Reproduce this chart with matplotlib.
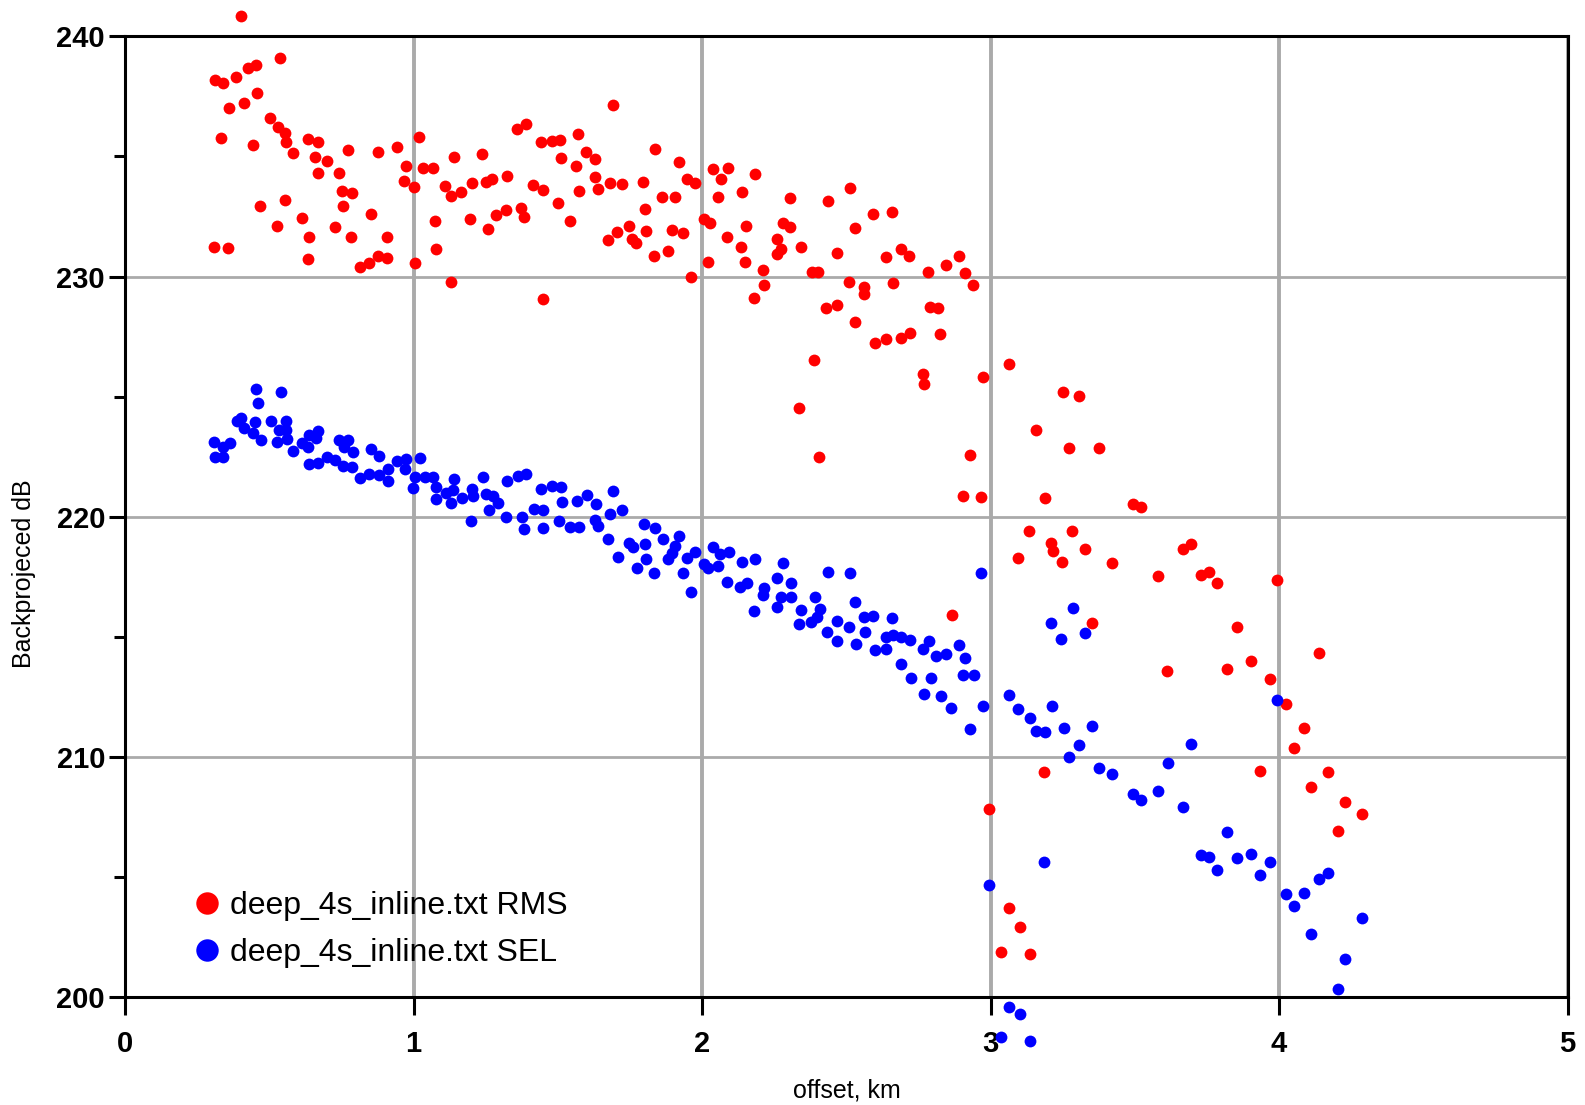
import matplotlib
matplotlib.use("Agg")
import matplotlib.pyplot as plt
from matplotlib.ticker import MultipleLocator

# offsets (km) and levels (dB)
rms_km = [0.400, 0.311, 0.338, 0.383, 0.424, 0.452, 0.536, 0.361, 0.413, 0.458, 0.332, 0.442, 0.502, 0.530,
          0.554, 0.557, 0.580, 0.634, 0.667, 0.658, 0.698, 0.667, 0.771, 0.741, 0.752, 0.787, 0.756, 0.467,
          0.555, 0.525, 0.612, 0.638, 0.634, 0.309, 0.355, 0.727, 0.784, 0.852, 0.906, 0.877, 0.909, 0.845,
          0.814, 0.878, 0.941, 1.019, 0.972, 1.033, 1.066, 0.967, 1.001, 1.139, 1.237, 1.108, 1.131, 1.164,
          1.203, 1.250, 1.270, 1.322, 1.073, 1.077, 1.195, 1.287, 1.320, 1.258, 1.005, 1.129,
          1.372, 1.382, 1.359, 1.389, 1.440, 1.478, 1.507, 1.568, 1.692, 1.510, 1.561, 1.599, 1.630, 1.628,
          1.414, 1.447, 1.502, 1.574, 1.640, 1.680, 1.721, 1.796, 1.543, 1.447, 1.836, 1.919, 1.949, 1.976,
          1.861, 1.905, 1.801, 1.746, 1.705, 1.674, 1.757, 1.770, 1.807, 1.833, 1.881, 1.897, 1.932, 1.961,
          2.007, 2.027, 2.019, 2.036, 2.090, 2.064, 2.183, 2.056, 2.137, 2.306, 2.085, 2.133, 2.151, 2.148,
          2.212, 2.214, 2.179, 2.279, 2.306, 2.261, 2.275, 2.258,
          2.342, 2.437, 2.511, 2.469, 2.529, 2.593, 2.659, 2.380, 2.402, 2.510, 2.562, 2.562, 2.431, 2.466,
          2.529, 2.637, 2.689, 2.718, 2.662, 2.783, 2.844, 2.891, 2.911, 2.940, 2.789, 2.818, 2.826, 2.720,
          2.689, 2.639, 2.599, 2.388, 2.336, 2.406, 2.766, 2.769, 2.972, 2.928, 2.905, 2.965,
          3.063, 3.251, 3.305, 3.156, 3.273, 3.374, 3.187, 3.495, 3.521, 3.134, 3.283, 3.209, 3.217, 3.327,
          3.094, 3.246, 3.422, 3.580, 2.867, 3.351, 3.612, 3.184, 2.995, 3.063, 3.101, 3.035, 3.137,
          3.667, 3.696, 3.731, 3.757, 3.786, 3.992, 3.854, 4.139, 3.818, 3.904, 3.969, 4.023, 4.086, 4.051,
          3.933, 4.168, 4.109, 4.229, 4.287, 4.203]
rms_db = [240.86, 238.18, 238.07, 238.32, 238.67, 238.81, 239.09, 237.00, 237.21, 237.63, 235.76, 235.46, 236.61, 236.24,
          235.96, 235.61, 235.13, 235.71, 235.59, 234.99, 234.80, 234.30, 235.27, 234.30, 233.56, 233.47, 232.95, 232.95,
          233.19, 232.12, 232.42, 231.66, 230.73, 231.24, 231.20, 232.05, 231.66, 232.59, 231.66, 230.85, 230.76, 230.55,
          230.41, 235.17, 235.38, 235.82, 234.60, 234.53, 234.51, 233.99, 233.74, 234.99, 235.10, 233.78, 233.35, 233.53,
          233.91, 233.95, 234.05, 234.20, 232.31, 231.13, 232.39, 232.56, 232.77, 231.98, 230.55, 229.78,
          232.84, 232.49, 236.13, 236.34, 235.59, 235.66, 235.69, 235.94, 237.13, 234.95, 234.60, 235.20, 234.91, 234.13,
          233.80, 233.59, 233.07, 233.57, 233.66, 233.91, 233.85, 233.95, 232.32, 229.05, 235.30, 234.78, 234.06, 233.91,
          233.32, 233.32, 232.81, 232.10, 231.85, 231.52, 231.55, 231.38, 231.90, 230.87, 231.07, 231.94, 231.82, 229.97,
          232.38, 232.22, 230.62, 234.49, 234.52, 234.05, 234.27, 233.32, 233.52, 233.26, 231.66, 231.24, 232.12, 230.62,
          230.27, 229.65, 229.09, 232.22, 232.07, 231.56, 231.13, 230.94,
          231.24, 233.14, 233.70, 230.99, 232.01, 232.60, 232.70, 230.19, 230.19, 229.76, 229.58, 229.26, 228.70, 228.80,
          228.10, 230.82, 231.16, 230.85, 229.71, 230.19, 230.48, 230.85, 230.16, 229.63, 228.72, 228.68, 227.59, 227.66,
          227.45, 227.38, 227.22, 226.52, 224.54, 222.50, 225.94, 225.51, 225.80, 222.57, 220.87, 220.83,
          226.36, 225.19, 225.03, 223.59, 222.84, 222.84, 220.78, 220.53, 220.40, 219.40, 219.40, 218.90, 218.55, 218.67,
          218.26, 218.11, 218.07, 217.53, 215.90, 215.57, 213.57, 209.35, 207.81, 203.68, 202.91, 201.87, 201.79,
          218.65, 218.85, 217.58, 217.68, 217.24, 217.37, 215.38, 214.32, 213.65, 213.98, 213.24, 212.18, 211.21, 210.35,
          209.40, 209.38, 208.74, 208.10, 207.62, 206.91]

sel_km = [0.453, 0.539, 0.459, 0.386, 0.403, 0.411, 0.450, 0.442, 0.469, 0.505, 0.557, 0.534, 0.559, 0.527,
          0.562, 0.307, 0.363, 0.340, 0.311, 0.340, 0.582, 0.614, 0.637, 0.669, 0.661, 0.634, 0.741, 0.771,
          0.758, 0.788, 0.638, 0.669, 0.698, 0.727, 0.756, 0.785, 0.852, 0.880, 0.813, 0.846, 0.879, 0.912,
          0.912, 0.941, 0.973, 0.970, 1.021, 1.004, 0.996, 1.039, 1.068, 1.077, 1.079, 1.112, 1.131, 1.140,
          1.137, 1.166, 1.201, 1.206, 1.239, 1.250, 1.276, 1.293, 1.262, 1.198, 1.322, 1.320,
          1.362, 1.391, 1.374, 1.383, 1.418, 1.449, 1.440, 1.478, 1.510, 1.513, 1.449, 1.503, 1.541, 1.574,
          1.565, 1.601, 1.632, 1.628, 1.640, 1.692, 1.680, 1.721, 1.674, 1.707, 1.747, 1.759, 1.798, 1.836,
          1.801, 1.863, 1.807, 1.773, 1.833, 1.920, 1.905, 1.897, 1.882, 1.948, 1.975, 1.932, 1.963, 2.006,
          2.021, 2.036, 2.061, 2.094, 2.056, 2.137, 2.183, 2.087, 2.131, 2.154, 2.214, 2.211, 2.279, 2.261,
          2.307, 2.275, 2.307, 2.179, 2.260,
          2.437, 2.512, 2.391, 2.344, 2.408, 2.397, 2.336, 2.379, 2.530, 2.469, 2.508, 2.433, 2.468, 2.533,
          2.564, 2.562, 2.593, 2.659, 2.599, 2.639, 2.637, 2.662, 2.691, 2.722, 2.691, 2.764, 2.786, 2.812,
          2.847, 2.891, 2.911, 2.723, 2.792, 2.903, 2.942, 2.768, 2.827, 2.862,
          2.965, 3.284, 3.209, 3.244, 3.327, 2.972, 2.928, 3.063, 3.095, 3.136, 3.156, 3.188, 3.214, 3.254,
          3.352, 3.306, 3.273, 3.374, 3.422, 3.495, 3.521, 3.580, 3.614, 3.184, 2.995, 3.063, 3.101, 3.035,
          3.137,
          3.992, 3.696, 3.667, 3.818, 3.728, 3.757, 3.786, 3.854, 3.904, 3.969, 3.933, 4.139, 4.168, 4.023,
          4.086, 4.051, 4.287, 4.109, 4.229, 4.203]
sel_db = [225.31, 225.18, 224.74, 223.99, 224.09, 223.68, 223.95, 223.47, 223.19, 223.99, 223.99, 223.61, 223.61, 223.12,
          223.22, 223.12, 223.08, 222.91, 222.50, 222.50, 222.73, 223.05, 223.40, 223.58, 223.26, 222.89, 223.19, 223.19,
          222.89, 222.68, 222.18, 222.25, 222.47, 222.36, 222.12, 222.08, 222.82, 222.52, 221.59, 221.76, 221.73, 221.98,
          221.48, 222.33, 222.40, 221.98, 222.43, 221.66, 221.18, 221.64, 221.64, 221.22, 220.72, 221.00, 220.58, 221.57,
          221.11, 220.76, 221.15, 220.86, 221.66, 220.94, 220.86, 220.58, 220.27, 219.82, 221.50, 220.00,
          221.69, 221.77, 219.97, 219.47, 220.30, 220.27, 221.15, 221.29, 221.25, 220.60, 219.54, 219.82, 219.55, 219.55,
          220.66, 220.90, 220.52, 219.86, 219.61, 221.08, 220.11, 220.27, 219.05, 218.33, 218.91, 218.72, 219.69, 219.51,
          218.86, 219.07, 218.22, 217.87, 217.64, 219.20, 218.78, 218.47, 218.22, 218.26, 218.54, 217.64, 216.87, 218.03,
          217.85, 218.72, 218.44, 218.51, 217.94, 218.12, 218.23, 217.26, 217.08, 217.25, 217.04, 216.73, 218.08, 217.45,
          217.25, 216.66, 216.66, 216.08, 216.25,
          217.68, 217.64, 216.66, 216.11, 216.14, 215.83, 215.53, 215.62, 216.44, 215.66, 215.39, 215.18, 214.82, 214.69,
          215.18, 215.83, 215.86, 215.79, 214.45, 214.49, 214.97, 215.07, 215.00, 214.86, 213.85, 214.47, 214.82, 214.19,
          214.26, 214.64, 214.10, 213.29, 213.29, 213.40, 213.40, 212.61, 212.53, 212.01,
          217.63, 216.19, 215.56, 214.90, 215.15, 212.13, 211.15, 212.56, 211.98, 211.63, 211.07, 211.01, 212.13, 211.21,
          211.27, 210.50, 209.98, 209.52, 209.27, 208.43, 208.21, 208.56, 209.75, 205.60, 204.64, 199.58, 199.30, 198.33,
          198.14,
          212.36, 210.54, 207.91, 206.88, 205.91, 205.80, 205.29, 205.77, 205.94, 205.62, 205.08, 204.91, 205.15, 204.26,
          204.32, 203.76, 203.26, 202.60, 201.56, 200.34]

series_labels = ["deep_4s_inline.txt RMS", "deep_4s_inline.txt SEL"]
x_ticks = [0, 1, 2, 3, 4, 5]
y_ticks = [200, 210, 220, 230, 240]

plt.rcParams['font.family'] = ['Liberation Sans', 'DejaVu Sans']

fig = plt.figure(figsize=(15.85, 11.05), dpi=100)
ax = fig.add_axes([0.079, 0.098, 0.910, 0.869])

ax.plot(rms_km, rms_db, 'o', color='#ff0000', markersize=8.5, markeredgewidth=0,
        clip_on=False, zorder=3, label=series_labels[0])
ax.plot(sel_km, sel_db, 'o', color='#0000ff', markersize=8.5, markeredgewidth=0,
        clip_on=False, zorder=3, label=series_labels[1])

ax.set_xlim(0, 5)
ax.set_ylim(200, 240)
ax.set_xticks(x_ticks)
ax.set_yticks(y_ticks)
ax.yaxis.set_minor_locator(MultipleLocator(5))

ax.xaxis.grid(True, color='#aaaaaa', linewidth=2.8, zorder=0)
ax.yaxis.grid(True, color='#aaaaaa', linewidth=2.0, zorder=0)
ax.set_axisbelow(True)

for s in ax.spines.values():
    s.set_linewidth(2.2)
    s.set_color('black')

ax.tick_params(axis='x', which='major', direction='out', length=13, width=2.2,
               labelsize=21, pad=11)
ax.tick_params(axis='y', which='major', direction='out', length=11.5, width=2.2,
               labelsize=21, pad=3)
ax.tick_params(axis='y', which='minor', direction='out', length=8, width=2.2)
for lbl in ax.get_xticklabels() + ax.get_yticklabels():
    lbl.set_fontweight('bold')

ax.set_xlabel("offset, km", fontsize=18)
ax.set_ylabel("Backprojeced dB", fontsize=18)
ax.xaxis.set_label_coords(0.5, -0.085)
ax.yaxis.set_label_coords(-0.062, 0.441)

ax.legend(loc='upper left', bbox_to_anchor=(0.1223, 0.1935), bbox_transform=fig.transFigure,
          frameon=False, fontsize=23, markerscale=1.9, handlelength=0.8, handletextpad=0.32,
          labelspacing=0.52, borderpad=0, borderaxespad=0)

fig.savefig("out.png", dpi=100)
